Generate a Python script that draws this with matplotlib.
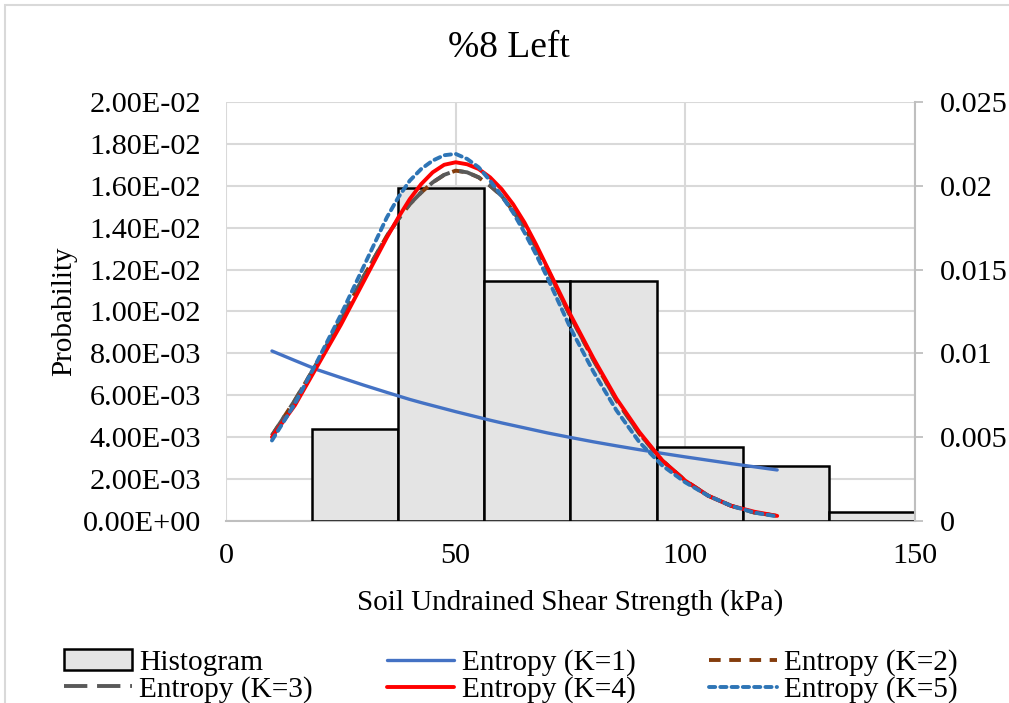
import matplotlib
matplotlib.use("Agg")
import matplotlib.pyplot as plt
from matplotlib.patches import Rectangle
from matplotlib.ticker import FuncFormatter

plt.rcParams['font.family'] = ['Liberation Serif', 'DejaVu Serif']

# ---- data ----
title = "%8 Left"
xlabel = "Soil Undrained Shear Strength (kPa)"
ylabel = "Probability"

bin_edges = [18.75, 37.5, 56.25, 75.0, 93.75, 112.5, 131.25, 150.0]
hist_heights = [0.0044, 0.0159, 0.01146, 0.01146, 0.00353, 0.00263, 0.00043]

x_curve = [10, 15, 20, 25, 30, 35, 37.5, 40, 42.5, 45, 47.5, 50, 52.5, 55, 57.5,
           60, 62.5, 65, 67.5, 70, 75, 80, 85, 90, 95, 100, 105, 110, 115, 120]
k1 = [0.01014, 0.00957, 0.00901, 0.00855, 0.00810, 0.00767, 0.00746, 0.00725,
      0.00706, 0.00688, 0.00670, 0.00652, 0.00635, 0.00618, 0.00601, 0.00585,
      0.00570, 0.00555, 0.00540, 0.00525, 0.00498, 0.00472, 0.00448, 0.00425,
      0.00403, 0.00382, 0.00362, 0.00342, 0.00323, 0.00304]
k2 = [0.0051, 0.0072, 0.0095, 0.0120, 0.0146, 0.0170, 0.0180, 0.0189, 0.0196,
      0.0202, 0.02065, 0.0209, 0.0208, 0.0205, 0.0200, 0.0194, 0.0185, 0.0175,
      0.0163, 0.0150, 0.0122, 0.0096, 0.0072, 0.0052, 0.0036, 0.0024, 0.0015,
      0.0009, 0.0005, 0.0003]
k3 = [0.0051, 0.0072, 0.0095, 0.0120, 0.0146, 0.0170, 0.0180, 0.0189, 0.0196,
      0.0202, 0.02065, 0.0209, 0.0208, 0.0205, 0.0200, 0.0194, 0.0185, 0.0175,
      0.0163, 0.0150, 0.0122, 0.0096, 0.0072, 0.0052, 0.0036, 0.0024, 0.0015,
      0.0009, 0.0005, 0.0003]
k4 = [0.0050, 0.0069, 0.0093, 0.0117, 0.0143, 0.0169, 0.0181, 0.0192, 0.0201,
      0.0208, 0.02125, 0.0214, 0.02128, 0.0210, 0.0205, 0.0198, 0.0189, 0.0178,
      0.0165, 0.0151, 0.0123, 0.0097, 0.0073, 0.0053, 0.0036, 0.0024, 0.0015,
      0.0009, 0.00055, 0.0003]
k5 = [0.0048, 0.0070, 0.0096, 0.0123, 0.0152, 0.0181, 0.0193, 0.0203, 0.0210,
      0.0215, 0.02182, 0.0219, 0.0216, 0.0211, 0.0203, 0.0194, 0.0184, 0.0172,
      0.0159, 0.0145, 0.0115, 0.0089, 0.0066, 0.0047, 0.0033, 0.0023, 0.0015,
      0.0009, 0.0005, 0.00027]

left_ticks = [0.0, 0.002, 0.004, 0.006, 0.008, 0.010, 0.012, 0.014, 0.016, 0.018, 0.020]
right_ticks = [0.0, 0.005, 0.01, 0.015, 0.02, 0.025]
x_ticks = [0, 50, 100, 150]

# ---- figure ----
fig = plt.figure(figsize=(10.09, 7.03), dpi=100)
ax = fig.add_axes([0.224, 0.259, 0.6828, 0.596])
ax2 = ax.twinx()

FS_T = 21.8
FS_L = 21.0
FS_LEG = 21.2
grid_c = '#D9D9D9'

widths = [bin_edges[i + 1] - bin_edges[i] for i in range(len(hist_heights))]
bars = ax.bar(bin_edges[:-1], hist_heights, width=widths, align='edge',
              facecolor='#E4E4E4', edgecolor='black', linewidth=1.8, zorder=3,
              label='Histogram')

ax.set_xlim(0, 150)
ax.set_ylim(0, 0.02)
ax.set_yticks(left_ticks)
ax.yaxis.set_major_formatter(FuncFormatter(lambda v, p: f"{v:.2E}"))
ax.set_xticks(x_ticks)
ax.grid(True, color=grid_c, linewidth=1.5, zorder=0)
ax.set_axisbelow(True)
ax.tick_params(axis='y', length=0, pad=18, labelsize=FS_T)
ax.tick_params(axis='x', length=0, pad=16, labelsize=FS_T)
for s in ['top', 'right', 'left']:
    ax.spines[s].set_visible(False)
ax.spines['bottom'].set_color('#BFBFBF')
ax.spines['bottom'].set_linewidth(1.5)

ax2.set_ylim(0, 0.025)
ax2.set_yticks(right_ticks)
ax2.yaxis.set_major_formatter(FuncFormatter(lambda v, p: "0" if v == 0 else f"{v:g}"))
ax2.tick_params(axis='y', length=6, width=1.3, color='#BFBFBF', pad=12, labelsize=FS_T)
for s in ['top', 'left', 'bottom']:
    ax2.spines[s].set_visible(False)
ax2.spines['right'].set_color('#BFBFBF')
ax2.spines['right'].set_linewidth(1.5)

l1, = ax2.plot(x_curve, k1, color='#4472C4', lw=2.4, label='Entropy (K=1)',
               solid_capstyle='round')
l2, = ax2.plot(x_curve, k2, color='#843C0C', lw=2.8, label='Entropy (K=2)',
               dashes=(3.0, 2.2))
l3, = ax2.plot(x_curve, k3, color='#595959', lw=2.8, label='Entropy (K=3)',
               dashes=(6.0, 2.5))
l4, = ax2.plot(x_curve, k4, color='#FF0000', lw=2.8, label='Entropy (K=4)',
               solid_capstyle='round', solid_joinstyle='round')
l5, = ax2.plot(x_curve, k5, color='#2E75B6', lw=2.8, label='Entropy (K=5)',
               dashes=(1.6, 1.3), dash_capstyle='round')

fig.text(0.504, 0.932, title, fontsize=27, ha='center', va='center')
ax.set_xlabel(xlabel, fontsize=FS_L, labelpad=14)
ax.set_ylabel(ylabel, fontsize=FS_L, labelpad=4)

handles = [bars, l3, l1, l4, l2, l5]
labels = [h.get_label() for h in handles]
fig.legend(handles, labels, loc='center', bbox_to_anchor=(0.5065, 0.038),
           ncol=3, frameon=False, fontsize=FS_LEG, handlelength=2.3,
           handletextpad=0.25, columnspacing=2.5, labelspacing=0.0,
           borderpad=0.0)

# outer chart border
fig.patches.append(Rectangle((0.005, -0.1), 1.2, 1.093, transform=fig.transFigure,
                             fill=False, edgecolor='#D9D9D9', linewidth=1.5))

fig.savefig('out.png', dpi=100)
